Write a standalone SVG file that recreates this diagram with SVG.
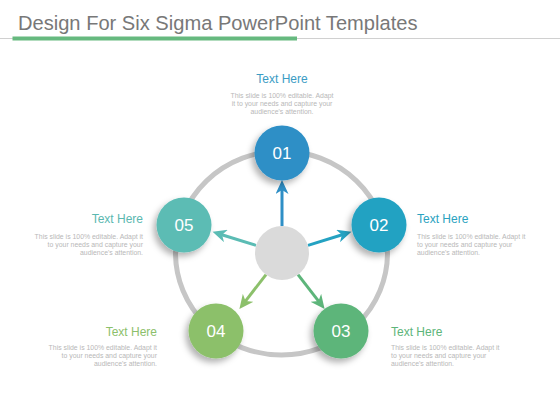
<svg xmlns="http://www.w3.org/2000/svg" width="560" height="420" viewBox="0 0 560 420">
<style>
.title{font-family:"Liberation Sans",Arial,sans-serif;font-size:20.1px;fill:#787878}
.num{font-family:"Liberation Sans",Arial,sans-serif;font-size:17px;fill:#ffffff;text-anchor:middle}
.head{font-family:"Liberation Sans",Arial,sans-serif;font-size:12px}
.body{font-family:"Liberation Sans",Arial,sans-serif;font-size:6.9px;fill:#b8b8b8}
.arr{stroke-width:3;fill:none}
</style>
<defs>
<filter id="sh" x="-50%" y="-50%" width="200%" height="200%">
<feDropShadow dx="-3" dy="4" stdDeviation="3" flood-color="#000" flood-opacity="0.3"/>
</filter>
<marker id="m1" markerUnits="userSpaceOnUse" markerWidth="15" markerHeight="13" refX="6" refY="6.5" orient="auto"><path d="M0,0 L14,6.5 L0,13 L4,6.5 z" fill="#2e8fc6"/></marker>
<marker id="m2" markerUnits="userSpaceOnUse" markerWidth="15" markerHeight="13" refX="6" refY="6.5" orient="auto"><path d="M0,0 L14,6.5 L0,13 L4,6.5 z" fill="#24a2c2"/></marker>
<marker id="m3" markerUnits="userSpaceOnUse" markerWidth="15" markerHeight="13" refX="6" refY="6.5" orient="auto"><path d="M0,0 L14,6.5 L0,13 L4,6.5 z" fill="#5db57a"/></marker>
<marker id="m4" markerUnits="userSpaceOnUse" markerWidth="15" markerHeight="13" refX="6" refY="6.5" orient="auto"><path d="M0,0 L14,6.5 L0,13 L4,6.5 z" fill="#8cc06b"/></marker>
<marker id="m5" markerUnits="userSpaceOnUse" markerWidth="15" markerHeight="13" refX="6" refY="6.5" orient="auto"><path d="M0,0 L14,6.5 L0,13 L4,6.5 z" fill="#5bbcb4"/></marker>
</defs>
<rect width="560" height="420" fill="#ffffff"/>
<g id="header">
<text class="title" x="18" y="30">Design For Six Sigma PowerPoint Templates</text>
<line x1="0" y1="38.5" x2="560" y2="38.5" stroke="#d0d0d0" stroke-width="1"/>
<rect x="12.5" y="36.5" width="284.5" height="4" fill="#66b97f"/>
</g>
<g id="ring">
<ellipse cx="281.5" cy="253" rx="106" ry="102" fill="none" stroke="#c6c6c6" stroke-width="5"/>
</g>
<g id="connectors">
<line class="arr" x1="282" y1="226" x2="282" y2="188" stroke="#2e8fc6" marker-end="url(#m1)"/>
<line class="arr" x1="308" y1="245.4" x2="343.8" y2="234.2" stroke="#24a2c2" marker-end="url(#m2)"/>
<line class="arr" x1="298" y1="274.6" x2="319.7" y2="302.6" stroke="#5db57a" marker-end="url(#m3)"/>
<line class="arr" x1="266" y1="274.6" x2="244.3" y2="302.6" stroke="#8cc06b" marker-end="url(#m4)"/>
<line class="arr" x1="256" y1="245.4" x2="220.2" y2="234.2" stroke="#5bbcb4" marker-end="url(#m5)"/>
</g>
<g id="center"><circle cx="282" cy="253" r="27" fill="#dadada"/></g>
<g id="node01">
<circle cx="282" cy="153" r="27.5" fill="#2e8fc6" filter="url(#sh)"/>
<text class="num" x="282" y="159">01</text>
<text class="head" x="282" y="83" text-anchor="middle" fill="#3b9cc4">Text Here</text>
<text class="body" text-anchor="middle"><tspan x="282" y="98">This slide is 100% editable. Adapt</tspan><tspan x="282" y="106">it to your needs and capture your</tspan><tspan x="282" y="114">audience's attention.</tspan></text>
</g>
<g id="node02">
<circle cx="379" cy="225" r="27.5" fill="#24a2c2" filter="url(#sh)"/>
<text class="num" x="379" y="231">02</text>
<text class="head" x="417" y="223" fill="#2aa2c0">Text Here</text>
<text class="body"><tspan x="417" y="239">This slide is 100% editable. Adapt it</tspan><tspan x="417" y="247">to your needs and capture your</tspan><tspan x="417" y="255">audience's attention.</tspan></text>
</g>
<g id="node03">
<circle cx="341" cy="331" r="27.5" fill="#5db57a" filter="url(#sh)"/>
<text class="num" x="341" y="337">03</text>
<text class="head" x="391" y="336" fill="#5db57a">Text Here</text>
<text class="body"><tspan x="391" y="350">This slide is 100% editable. Adapt it</tspan><tspan x="391" y="358">to your needs and capture your</tspan><tspan x="391" y="366">audience's attention.</tspan></text>
</g>
<g id="node04">
<circle cx="216" cy="331" r="27.5" fill="#8cc06b" filter="url(#sh)"/>
<text class="num" x="216" y="337">04</text>
<text class="head" x="157" y="336" text-anchor="end" fill="#8cc06b">Text Here</text>
<text class="body" text-anchor="end"><tspan x="157" y="350">This slide is 100% editable. Adapt it</tspan><tspan x="157" y="358">to your needs and capture your</tspan><tspan x="157" y="366">audience's attention.</tspan></text>
</g>
<g id="node05">
<circle cx="184" cy="225" r="27.5" fill="#5bbcb4" filter="url(#sh)"/>
<text class="num" x="184" y="231">05</text>
<text class="head" x="143" y="223" text-anchor="end" fill="#5bb8b0">Text Here</text>
<text class="body" text-anchor="end"><tspan x="143" y="239">This slide is 100% editable. Adapt it</tspan><tspan x="143" y="247">to your needs and capture your</tspan><tspan x="143" y="255">audience's attention.</tspan></text>
</g>
</svg>
